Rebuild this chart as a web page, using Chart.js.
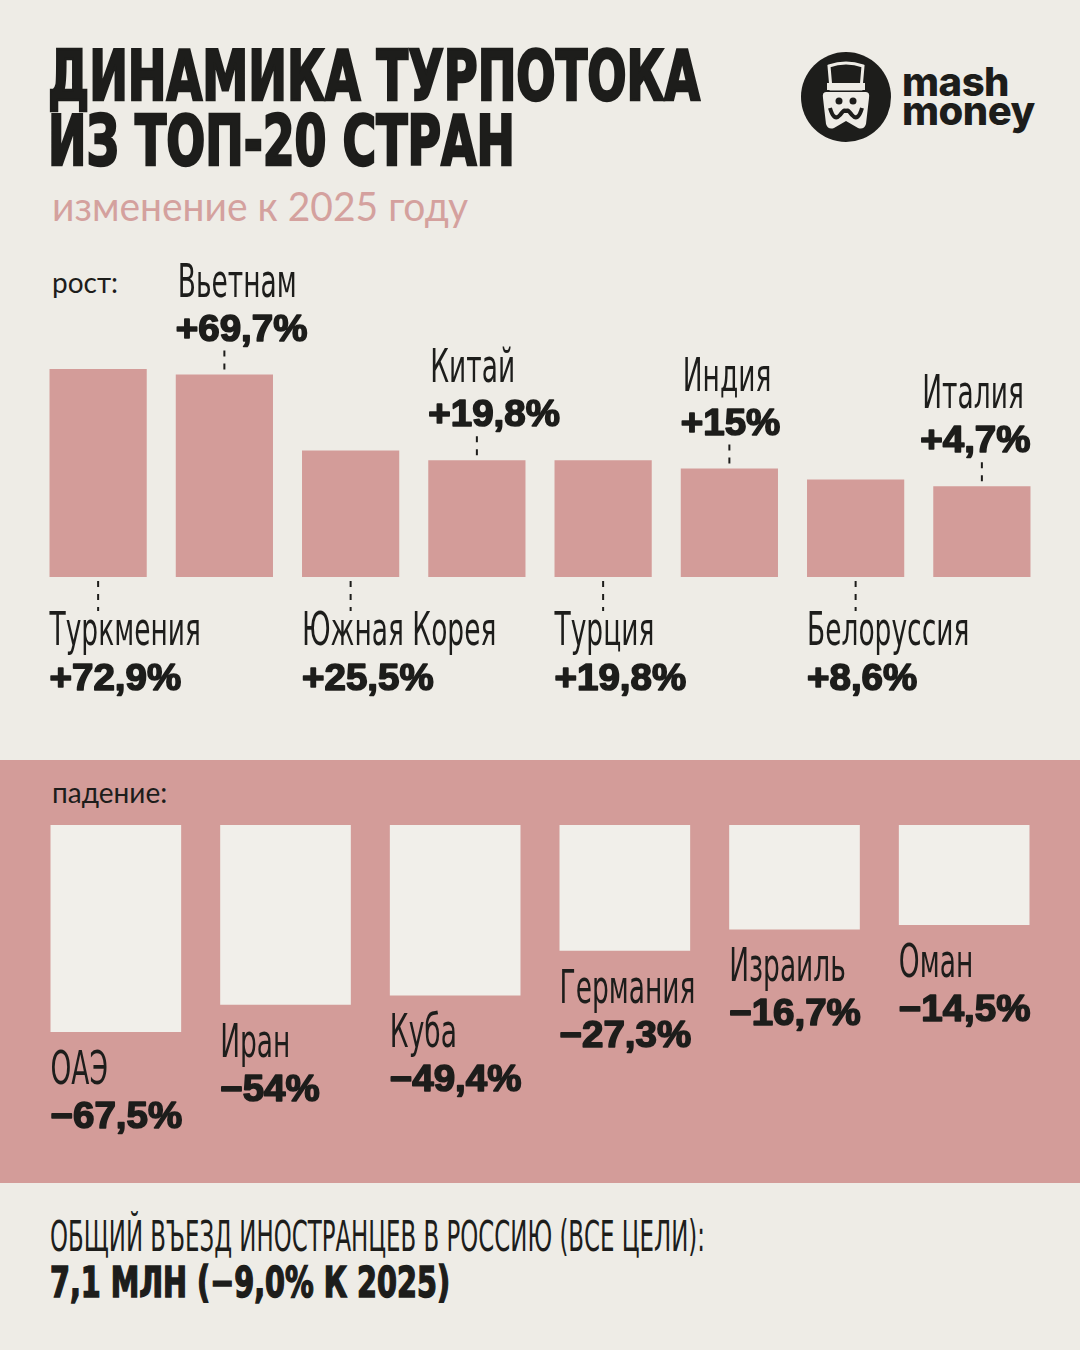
<!DOCTYPE html>
<html lang="ru">
<head>
<meta charset="UTF-8">
<title>Динамика турпотока из топ-20 стран</title>
<script src="https://cdn.jsdelivr.net/npm/chart.js"></script>
<style>
    html, body {
        margin: 0;
        padding: 0;
    }
    body {
        width: 1080px;
        height: 1350px;
        position: relative;
        overflow: hidden;
        background: #eeece6;
        color: #1d1d1b;
    }
    .abs {
        position: absolute;
        white-space: nowrap;
        line-height: 1;
        transform-origin: 0 0;
    }
    .title {
        font-family: "Liberation Sans Narrow", "DejaVu Sans Condensed", sans-serif;
        font-weight: 700;
        font-size: 70px;
        -webkit-text-stroke: 2.5px #1d1d1b;
    }
    .subtitle {
        font-family: Lato, "Noto Sans", sans-serif;
        font-size: 40px;
        color: #d4a19e;
    }
    .section {
        font-family: Lato, "Noto Sans", sans-serif;
        font-size: 28px;
    }
    .foot1 {
        font-family: "Liberation Sans Narrow", "DejaVu Sans Condensed", sans-serif;
        font-size: 42px;
    }
    .foot2 {
        font-family: "Liberation Sans Narrow", "DejaVu Sans Condensed", sans-serif;
        font-weight: 700;
        font-size: 42px;
        -webkit-text-stroke: 1.5px #1d1d1b;
    }
    .band {
        position: absolute;
        left: 0;
        top: 760px;
        width: 1080px;
        height: 423px;
        background: #d39c99;
    }
    .chart-box {
        position: absolute;
        left: 0;
        width: 1080px;
    }
    .brand {
        font-family: Inter, Lato, sans-serif;
        font-weight: 800;
        font-size: 40px;
        letter-spacing: -0.5px;
    }
</style>
</head>
<body>

<div class="band"></div>

<div class="abs title" id="t1" style="left:48px; top:41px;">ДИНАМИКА ТУРПОТОКА</div>
<div class="abs title" id="t2" style="left:48px; top:106px;">ИЗ ТОП-20 СТРАН</div>
<div class="abs subtitle" id="sub" style="left:52px; top:186px;">изменение к 2025 году</div>

<svg class="abs" style="left:800px; top:51px;" width="92" height="92" viewBox="0 0 92 92">
    <circle cx="46" cy="46" r="45" fill="#1d1d1b"/>
    <path d="M29 15 Q46 9 63 15 L61 38 L31 38 Z" fill="#1d1d1b" stroke="#eeece6" stroke-width="3"/>
    <rect x="27" y="32" width="38" height="7" fill="#eeece6"/>
    <path d="M26 41 L66 41 Q70 41 69 47 L66 73 Q64 79 58 77 L46 70 L34 77 Q28 79 26 73 L23 47 Q22 41 26 41 Z" fill="#eeece6"/>
    <circle cx="39" cy="50" r="3.5" fill="#1d1d1b"/>
    <circle cx="53" cy="50" r="3.5" fill="#1d1d1b"/>
    <path d="M30 57 Q34 71 40 64 Q46 56 46 62 Q46 56 52 64 Q58 71 62 57" fill="none" stroke="#1d1d1b" stroke-width="4"/>
</svg>
<div class="abs brand" style="left:902px; top:62px;">mash</div>
<div class="abs brand" style="left:902px; top:91px;">money</div>

<div class="abs section" style="left:52px; top:268px;">рост:</div>
<div class="abs section" style="left:52px; top:778px;">падение:</div>

<div class="chart-box" style="top:250px; height:460px;">
    <canvas id="growthChart"></canvas>
</div>
<div class="chart-box" style="top:810px; height:370px;">
    <canvas id="declineChart"></canvas>
</div>

<div class="abs foot1" id="f1" style="left:50px; top:1216px;">ОБЩИЙ ВЪЕЗД ИНОСТРАНЦЕВ В РОССИЮ (ВСЕ ЦЕЛИ):</div>
<div class="abs foot2" id="f2" style="left:50px; top:1262px;">7,1 МЛН (−9,0% К 2025)</div>

<script>
// data
const growthCountries = ['Туркмения', 'Вьетнам', 'Южная Корея', 'Китай', 'Турция', 'Индия', 'Белоруссия', 'Италия'];
const growthValues = [72.9, 69.7, 25.5, 19.8, 19.8, 15, 8.6, 4.7];
const declineCountries = ['ОАЭ', 'Иран', 'Куба', 'Германия', 'Израиль', 'Оман'];
const declineValues = [-67.5, -54, -49.4, -27.3, -16.7, -14.5];

// bars do not start at zero in the original, so give them a floor
const GROWTH_FLOOR = -48;
const DECLINE_CEIL = 35;

const INK = '#1d1d1b';
const PINK = '#d39c99';
const PAPER = '#f1efea';
const NAME_FONT = '46px "Liberation Sans Narrow", "DejaVu Sans Condensed", sans-serif';
const VALUE_FONT = 'bold 37px "Liberation Sans", Arial, sans-serif';
const NAME_SX = 0.64;
const VALUE_SX = 1.04;

function fmt(v) {
    const sign = v > 0 ? '+' : '−';
    return sign + String(Math.abs(v)).replace('.', ',') + '%';
}

function drawText(ctx, str, x, y, font, sx, heavy) {
    ctx.save();
    ctx.font = font;
    ctx.fillStyle = INK;
    ctx.strokeStyle = INK;
    ctx.textBaseline = 'alphabetic';
    ctx.textAlign = 'left';
    ctx.translate(x, y);
    ctx.scale(sx, 1);
    ctx.fillText(str, 0, 0);
    if (heavy) {
        ctx.lineWidth = 1.6;
        ctx.lineJoin = 'round';
        ctx.strokeText(str, 0, 0);
    }
    ctx.restore();
}

function textWidth(ctx, str, font, sx) {
    ctx.save();
    ctx.font = font;
    const w = ctx.measureText(str).width * sx;
    ctx.restore();
    return w;
}

function dotted(ctx, x, y1, y2) {
    ctx.save();
    ctx.strokeStyle = INK;
    ctx.lineWidth = 2;
    ctx.setLineDash([6, 7]);
    ctx.beginPath();
    ctx.moveTo(x, y1);
    ctx.lineTo(x, y2);
    ctx.stroke();
    ctx.restore();
}

const growthLabels = {
    id: 'growthLabels',
    afterDatasetsDraw(chart) {
        const ctx = chart.ctx;
        const bars = chart.getDatasetMeta(0).data;
        bars.forEach((bar, i) => {
            const p = bar.getProps(['x', 'y', 'base', 'width'], true);
            const left = p.x - p.width / 2;
            const right = p.x + p.width / 2;
            const name = growthCountries[i];
            const val = fmt(growthValues[i]);
            if (i % 2 === 0) {
                dotted(ctx, p.x, p.base + 4, p.base + 34);
                drawText(ctx, name, left, p.base + 68, NAME_FONT, NAME_SX);
                drawText(ctx, val, left, p.base + 113, VALUE_FONT, VALUE_SX, true);
            } else {
                const vb = p.y - 34;
                let lx = left;
                if (i === bars.length - 1) {
                    lx = right - textWidth(ctx, val, VALUE_FONT, VALUE_SX);
                }
                dotted(ctx, p.x, vb + 10, p.y - 2);
                drawText(ctx, val, lx, vb, VALUE_FONT, VALUE_SX, true);
                drawText(ctx, name, lx + 2, vb - 44, NAME_FONT, NAME_SX);
            }
        });
    }
};

const declineLabels = {
    id: 'declineLabels',
    afterDatasetsDraw(chart) {
        const ctx = chart.ctx;
        chart.getDatasetMeta(0).data.forEach((bar, i) => {
            const p = bar.getProps(['x', 'y', 'width'], true);
            const left = p.x - p.width / 2;
            drawText(ctx, declineCountries[i], left, p.y + 52, NAME_FONT, NAME_SX);
            drawText(ctx, fmt(declineValues[i]), left, p.y + 96, VALUE_FONT, VALUE_SX, true);
        });
    }
};

const hiddenScales = (min, max) => ({
    x: { display: false, offset: true },
    y: { display: false, min: min, max: max, grace: 0 }
});

new Chart(document.getElementById('growthChart'), {
    type: 'bar',
    data: {
        labels: growthCountries,
        datasets: [{
            data: growthValues,
            base: GROWTH_FLOOR,
            backgroundColor: PINK,
            borderWidth: 0,
            categoryPercentage: 1,
            barPercentage: 0.77
        }]
    },
    options: {
        responsive: true,
        maintainAspectRatio: false,
        animation: false,
        layout: { padding: { left: 35, right: 35, top: 119, bottom: 133 } },
        plugins: { legend: { display: false }, tooltip: { enabled: false } },
        scales: hiddenScales(GROWTH_FLOOR, Math.max(...growthValues))
    },
    plugins: [growthLabels]
});

new Chart(document.getElementById('declineChart'), {
    type: 'bar',
    data: {
        labels: declineCountries,
        datasets: [{
            data: declineValues,
            base: DECLINE_CEIL,
            backgroundColor: PAPER,
            borderWidth: 0,
            categoryPercentage: 1,
            barPercentage: 0.77
        }]
    },
    options: {
        responsive: true,
        maintainAspectRatio: false,
        animation: false,
        layout: { padding: { left: 31, right: 31, top: 15, bottom: 148 } },
        plugins: { legend: { display: false }, tooltip: { enabled: false } },
        scales: hiddenScales(Math.min(...declineValues), DECLINE_CEIL)
    },
    plugins: [declineLabels]
});

// squeeze headline texts to the widths used in the layout
function fitWidth(id, target) {
    const el = document.getElementById(id);
    el.style.transform = 'none';
    const w = el.getBoundingClientRect().width;
    el.style.transform = 'scaleX(' + (target / w) + ')';
}
function fitAll() {
    fitWidth('t1', 652);
    fitWidth('t2', 467);
    fitWidth('sub', 416);
    fitWidth('f1', 655);
    fitWidth('f2', 400);
}
fitAll();
document.fonts.ready.then(fitAll);
</script>

</body>
</html>
